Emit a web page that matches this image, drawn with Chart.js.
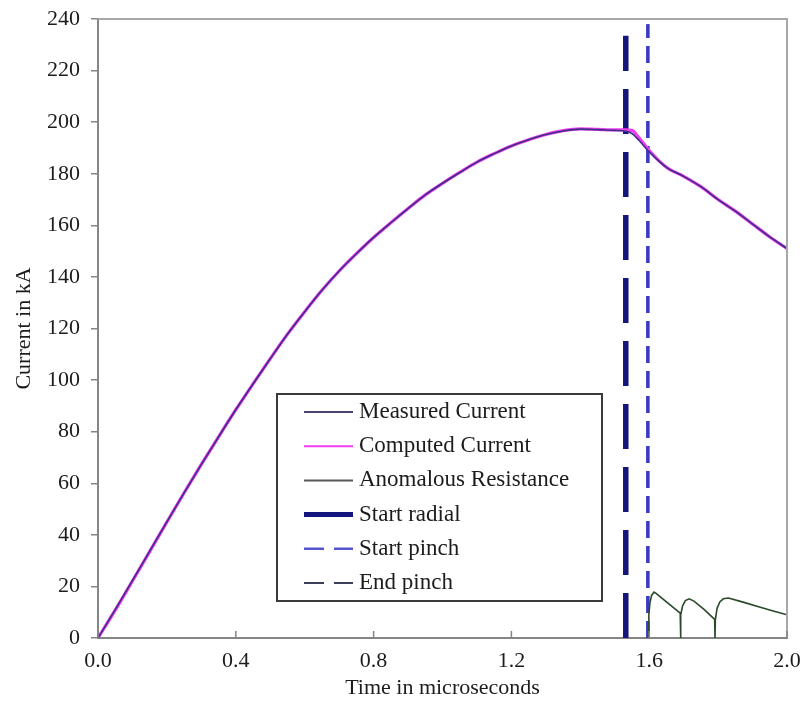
<!DOCTYPE html>
<html>
    <head>
        <meta charset="utf-8">
        <title>Current in kA</title>
        <style>
            body { margin: 0; background: #fff; }
            #wrap { width: 804px; height: 711px; }
        </style>
    </head>
    <body>
        <div id="wrap"><canvas id="chart" width="804" height="711"></canvas></div>
        <script src="https://cdn.jsdelivr.net/npm/chart.js"></script>
        <script type="text/javascript">
            // time axis, microseconds
            var timeUs = [0, 0.05, 0.1, 0.15, 0.2, 0.25, 0.3, 0.35, 0.4, 0.45, 0.5, 0.55, 0.6, 0.65, 0.7, 0.75, 0.8, 0.85, 0.9, 0.95,
                1.0, 1.05, 1.1, 1.15, 1.2, 1.25, 1.3, 1.35, 1.4, 1.45, 1.5, 1.53, 1.55, 1.57, 1.6, 1.65, 1.7, 1.75, 1.8, 1.85, 1.9, 1.95, 2.0];
            // currents, kA
            var measuredKA = [0, 11, 22.3, 33.7, 45, 56.3, 67.3, 78, 88.5, 98.5, 108.3, 117.8, 126.5, 134.8, 142.3, 149, 155.3, 161, 166.5, 171.8,
                176.3, 180.5, 184.5, 187.8, 190.8, 193.2, 195.2, 196.6, 197.3, 197.1, 196.8, 196.6, 195.6, 193, 188.5, 182.5, 179, 175, 170, 165.5, 160.5, 155.5, 151];
            var computedKA = [0, 10.8, 22.1, 33.5, 45, 56.3, 67.3, 78, 88.5, 98.5, 108.3, 117.8, 126.5, 134.8, 142.3, 149, 155.3, 161, 166.5, 171.8,
                176.3, 180.5, 184.5, 187.8, 190.8, 193.2, 195.2, 196.7, 197.4, 197.2, 197, 197, 196.8, 194, 189, 182.5, 179, 175, 170, 165.5, 160.5, 155.5, 151];

            var anomTimeUs = [1.597, 1.599, 1.602, 1.607, 1.614, 1.62, 1.65, 1.69, 1.691, 1.692, 1.697, 1.705, 1.716, 1.73, 1.76, 1.79,
                1.791, 1.792, 1.797, 1.805, 1.815, 1.83, 1.87, 1.92, 1.96, 2.0];
            var anomKA = [0, 9, 13.5, 16.5, 17.8, 17.3, 14, 9.6, 0, 9, 12.5, 14.5, 15.2, 14.3, 11, 7.2,
                0, 7, 11.5, 14, 15.2, 15.5, 14, 12, 10.5, 9];

            // vertical markers: [time, top of line]
            var startRadial = [1.532, 233.5];
            var startPinch = [1.596, 238];
            var endPinch = [1.597, 238];

            var xTicks = [0, 0.4, 0.8, 1.2, 1.6, 2.0];

            function pts(xs, ys) {
                return xs.map(function (x, i) { return {x: x, y: ys[i]}; });
            }
            function vline(m) {
                return [{x: m[0], y: 0}, {x: m[0], y: m[1]}];
            }

            var serif = "'Liberation Serif', 'Times New Roman', serif";
            var ink = "#1c1c1c";
            var axisGrey = "#858585";

            var legendBox = {
                id: "legendBox",
                afterDraw: function (chart) {
                    var c = chart.ctx;
                    var left = 277, top = 394, w = 325, h = 207;
                    c.save();
                    c.fillStyle = "#fff";
                    c.fillRect(left, top, w, h);
                    c.strokeStyle = "#3a3a3a";
                    c.lineWidth = 2;
                    c.strokeRect(left, top, w, h);
                    c.font = "23px " + serif;
                    c.textBaseline = "middle";
                    c.fillStyle = ink;
                    chart.data.datasets.forEach(function (ds, i) {
                        var y = 412 + i * 34.2;
                        c.beginPath();
                        c.strokeStyle = ds.legendColor || ds.borderColor;
                        c.lineWidth = ds.legendWidth || ds.borderWidth;
                        c.setLineDash(ds.legendDash || []);
                        c.moveTo(304, y);
                        c.lineTo(353, y);
                        c.stroke();
                        c.setLineDash([]);
                        c.fillText(ds.label, 359, y);
                    });
                    c.restore();
                }
            };

            var frame = {
                id: "frame",
                afterDraw: function (chart) {
                    var a = chart.chartArea;
                    var c = chart.ctx;
                    var xs = chart.scales.x;
                    c.save();
                    c.strokeStyle = "#a8a8a8";
                    c.lineWidth = 2;
                    c.beginPath();
                    c.moveTo(a.left, a.top);
                    c.lineTo(a.right, a.top);
                    c.lineTo(a.right, a.bottom);
                    c.stroke();
                    // x ticks point into the plot
                    c.strokeStyle = axisGrey;
                    c.lineWidth = 1.5;
                    xTicks.forEach(function (t) {
                        var px = xs.getPixelForValue(t);
                        c.beginPath();
                        c.moveTo(px, a.bottom);
                        c.lineTo(px, a.bottom - 7);
                        c.stroke();
                    });
                    c.restore();
                }
            };

            var ctx = document.getElementById("chart");
            var chart = new Chart(ctx, {
                type: "scatter",
                data: {
                    datasets: [{
                        label: "Measured Current",
                        data: pts(timeUs, measuredKA),
                        borderColor: "#3d2e86",
                        legendColor: "#4a4270",
                        borderWidth: 1.6,
                        legendWidth: 2,
                        cubicInterpolationMode: "monotone"
                    }, {
                        label: "Computed Current",
                        data: pts(timeUs, computedKA),
                        borderColor: "#f03cf0",
                        borderWidth: 3.2,
                        legendWidth: 2,
                        cubicInterpolationMode: "monotone"
                    }, {
                        label: "Anomalous Resistance",
                        data: pts(anomTimeUs, anomKA),
                        borderColor: "#2a4a2a",
                        legendColor: "#555a55",
                        borderWidth: 1.6,
                        legendWidth: 2
                    }, {
                        label: "Start radial",
                        data: vline(startRadial),
                        borderColor: "#15157e",
                        borderWidth: 5.5,
                        borderDash: [45, 18],
                        legendWidth: 5
                    }, {
                        label: "Start pinch",
                        data: vline(startPinch),
                        borderColor: "#3a3ac4",
                        legendColor: "#5555cc",
                        borderWidth: 3.5,
                        borderDash: [17, 8],
                        legendWidth: 2.5,
                        legendDash: [20, 10]
                    }, {
                        label: "End pinch",
                        data: vline(endPinch),
                        borderColor: "#1a2a6a",
                        legendColor: "#3a4058",
                        borderWidth: 2,
                        borderDash: [17, 8],
                        legendWidth: 2,
                        legendDash: [20, 10]
                    }]
                },
                options: {
                    responsive: false,
                    animation: false,
                    devicePixelRatio: 1,
                    datasets: {
                        scatter: {
                            showLine: true,
                            pointRadius: 0,
                            pointHoverRadius: 0
                        }
                    },
                    layout: {
                        padding: {left: 0, right: 17, top: 19, bottom: 0}
                    },
                    scales: {
                        x: {
                            type: "linear",
                            min: 0,
                            max: 2,
                            afterFit: function (s) {
                                s.height = 73;
                                s.paddingLeft = 0;
                                s.paddingRight = 0;
                            },
                            afterBuildTicks: function (s) {
                                s.ticks = xTicks.map(function (v) { return {value: v}; });
                            },
                            ticks: {
                                padding: 10,
                                color: ink,
                                font: {family: serif, size: 22},
                                maxRotation: 0,
                                callback: function (v) { return Number(v).toFixed(1); }
                            },
                            grid: {display: true, drawOnChartArea: false, drawTicks: false},
                            border: {display: true, color: axisGrey, width: 2},
                            title: {
                                display: true,
                                text: "Time in microseconds",
                                color: ink,
                                font: {family: serif, size: 22},
                                padding: {top: 0, bottom: 10}
                            }
                        },
                        y: {
                            min: 0,
                            max: 240,
                            afterFit: function (s) {
                                s.width = 98;
                                s.paddingTop = 0;
                                s.paddingBottom = 0;
                            },
                            ticks: {
                                stepSize: 20,
                                padding: 11,
                                color: ink,
                                font: {family: serif, size: 22}
                            },
                            grid: {display: true, drawOnChartArea: false, tickLength: 7, color: axisGrey, lineWidth: 1.5},
                            border: {display: true, color: axisGrey, width: 2},
                            title: {
                                display: true,
                                text: "Current in kA",
                                color: ink,
                                font: {family: serif, size: 22},
                                padding: {top: 11, bottom: 0}
                            }
                        }
                    },
                    plugins: {
                        legend: {display: false},
                        tooltip: {enabled: false}
                    }
                },
                plugins: [frame, legendBox]
            });
        </script>
    </body>
</html>
